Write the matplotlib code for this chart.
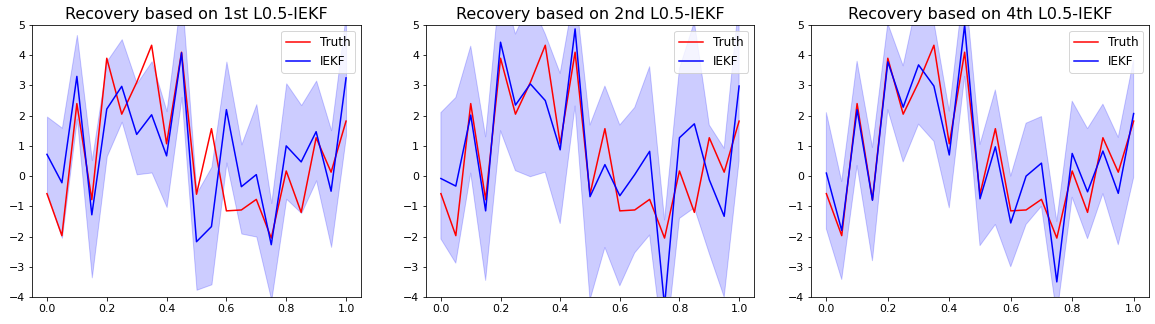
import matplotlib.pyplot as plt
import numpy as np

t = np.linspace(0, 1, 21)

truth = [-0.58, -1.97, 2.40, -0.78, 3.90, 2.05, 3.10, 4.33, 1.07, 4.10, -0.60,
         1.57, -1.15, -1.12, -0.77, -2.05, 0.17, -1.20, 1.27, 0.13, 1.82]

# IEKF estimates of each run
iekf_1st = [0.72, -0.22, 3.30, -1.28, 2.22, 2.97, 1.38, 2.03, 0.67, 4.08, -2.17,
            -1.67, 2.20, -0.35, 0.05, -2.27, 1.00, 0.47, 1.47, -0.50, 3.25]
iekf_2nd = [-0.08, -0.33, 2.02, -1.15, 4.43, 2.35, 3.05, 2.50, 0.87, 4.87, -0.68,
            0.38, -0.65, 0.05, 0.82, -4.30, 1.27, 1.73, -0.12, -1.33, 2.98]
iekf_4th = [0.10, -1.80, 2.20, -0.80, 3.78, 2.28, 3.68, 2.98, 0.70, 5.00, -0.75,
            0.97, -1.55, 0.00, 0.43, -3.50, 0.75, -0.52, 0.83, -0.57, 2.07]

# confidence bands (upper, lower)
upper_1st = [1.97, 1.60, 4.67, 0.53, 3.81, 4.53, 3.07, 3.80, 2.15, 6.10, -0.56,
             0.31, 3.79, 1.05, 2.38, -0.89, 3.07, 2.35, 3.16, 1.52, 5.40]
lower_1st = [-0.55, -2.04, 1.90, -3.35, 0.66, 1.80, 0.06, 0.12, -1.02, 2.62, -3.76,
             -3.58, 0.45, -1.90, -2.00, -4.10, -0.75, -1.22, -0.14, -2.34, 1.36]
upper_2nd = [2.10, 2.60, 4.30, 1.30, 6.50, 4.70, 5.80, 4.70, 3.40, 6.20, 1.69,
             2.98, 1.69, 2.27, 3.62, -1.45, 3.55, 5.10, 1.69, 0.92, 5.80]
lower_2nd = [-2.08, -2.88, 0.10, -3.45, 1.50, 0.18, -0.02, 0.13, -1.57, 2.32, -4.10,
             -2.36, -3.63, -2.54, -1.95, -6.00, -1.40, -1.05, -2.56, -4.00, 0.50]
upper_4th = [2.10, -0.18, 3.80, 0.95, 5.05, 3.65, 6.00, 5.10, 2.15, 6.50, 1.05,
             2.85, 0.00, 1.75, 1.97, -1.50, 2.48, 1.57, 2.38, 1.28, 3.85]
lower_4th = [-1.75, -3.42, 0.35, -2.80, 2.20, 0.47, 1.72, 1.15, -1.05, 3.30, -2.30,
             -1.60, -3.00, -1.60, -1.00, -4.60, -0.70, -2.07, -0.58, -2.27, -0.05]

titles = ["Recovery based on 1st L0.5-IEKF",
          "Recovery based on 2nd L0.5-IEKF",
          "Recovery based on 4th L0.5-IEKF"]
estimates = [iekf_1st, iekf_2nd, iekf_4th]
uppers = [upper_1st, upper_2nd, upper_4th]
lowers = [lower_1st, lower_2nd, lower_4th]

W, H = 1155, 324
fig = plt.figure(figsize=(W / 72, H / 72), dpi=72)

# axes boxes in pixels: left, right
boxes = [(32, 361), (426, 754), (811, 1149)]
top, bottom = 25, 297

for (l, r), title, est, up, lo in zip(boxes, titles, estimates, uppers, lowers):
    ax = fig.add_axes([l / W, 1 - bottom / H, (r - l) / W, (bottom - top) / H])
    ax.plot(t, truth, 'r', label="Truth")
    ax.plot(t, est, 'b', label="IEKF")
    ax.fill_between(t, lo, up, color='b', alpha=0.2)
    ax.set_ylim(-4, 5)
    ax.set_title(title, fontsize=16)
    ax.legend(loc=1, fontsize=12)
    ax.tick_params(labelsize=11)

fig.savefig("out.png", dpi=72)
